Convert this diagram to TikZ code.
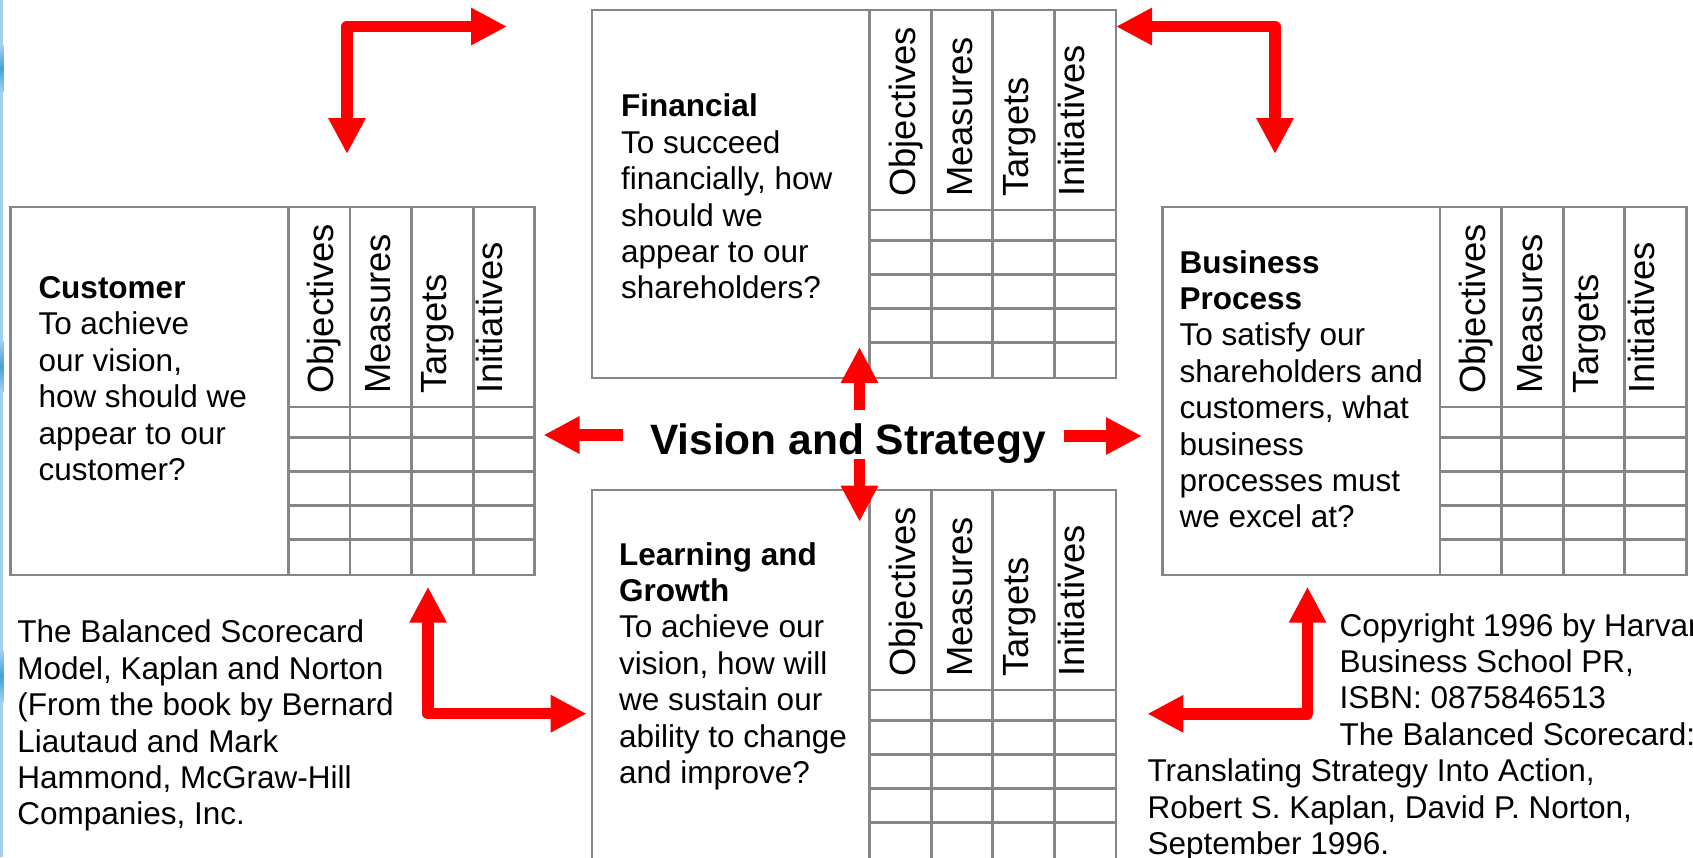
\documentclass[tikz,border=0pt]{standalone}
\usepackage{fontspec}
\setmainfont{Liberation Sans}
\usetikzlibrary{arrows.meta,calc}

\definecolor{boxgray}{RGB}{134,134,134}
\definecolor{arrowred}{RGB}{255,0,0}
\definecolor{stripblue}{RGB}{163,208,238}
\definecolor{stripdark}{RGB}{72,160,212}

\newcommand\cardfont{\fontsize{31.5}{36.4}\selectfont}
\newcommand\colfont{\fontsize{36.4}{42}\selectfont}
\newcommand\vsfont{\fontsize{42.5}{48}\selectfont\bfseries}

\tikzset{
  card/.style={draw=boxgray, line width=2.8pt, minimum width=524pt,
    minimum height=368pt, inner sep=0pt, outer sep=0pt, anchor=north west},
  gridline/.style={draw=boxgray, line width=2.8pt},
  colhead/.style={rotate=90, anchor=base west, inner sep=0pt, font=\colfont},
  cardtext/.style={anchor=north west, inner sep=0pt, align=left, font=\cardfont},
  redarrow/.style={draw=arrowred, line width=11.5pt, line join=round,
    arrows={-Triangle[width=35pt,length=36pt]}},
  twoway/.style={draw=arrowred, line width=11.5pt, line join=round,
    arrows={Triangle[width=35pt,length=36pt]-Triangle[width=35pt,length=36pt]}},
}

% measure columns and rows of one scorecard, drawn inside the card node #1
\newcommand\cardgrid[1]{%
  \begin{scope}[shift={(#1.north west)}]
    \foreach \cx in {277.6,339.2,400.8,462.4}
      \draw[gridline] (\cx,0) -- (\cx,368);
    \foreach \ry in {200,230.5,264.5,298.5,332.5}
      \draw[gridline] (277.6,\ry) -- (524,\ry);
    \node[colhead] (#1-obj) at (323,187) {Objectives};
    \node[colhead] (#1-mea) at (380,187) {Measures};
    \node[colhead] (#1-tar) at (436,187) {Targets};
    \node[colhead] (#1-ini) at (492,187) {Initiatives};
  \end{scope}}

\begin{document}
\begin{tikzpicture}[x=1pt,y=-1pt]
  \path[use as bounding box] (0,0) rectangle (1693,857);
  \clip (0,0) rectangle (1693,857);

  % thin blue strip along the left edge
  \fill[stripblue] (0,0) rectangle (3.3,857);
  \foreach \ya/\yb in {45/92,340/392,650/702}
    \shade[top color=stripblue, bottom color=stripblue, middle color=stripdark]
      (0,\ya) rectangle (3.3,\yb);

  % the four perspectives
  \node[card] (cust)  at (10.7,207) {};
  \node[card] (fin)   at (592,10) {};
  \node[card] (bus)   at (1162.3,207) {};
  \node[card, minimum height=374pt] (learn) at (592,490) {};
  \cardgrid{cust}
  \cardgrid{fin}
  \cardgrid{bus}
  \cardgrid{learn}

  \node[cardtext] (cust-text) at (38.3,272.8)
    {\strut\textbf{Customer}\\To achieve\\our vision,\\how should we\\appear to our\\customer?};
  \node[cardtext] (fin-text) at (621,91.2)
    {\strut\textbf{Financial}\\To succeed\\financially, how\\should we\\appear to our\\shareholders?};
  \node[cardtext] (bus-text) at (1179.4,247.5)
    {\strut\textbf{Business}\\\textbf{Process}\\To satisfy our\\shareholders and\\customers, what\\business\\processes must\\we excel at?};
  \node[cardtext] (learn-text) at (619,539.5)
    {\strut\textbf{Learning and}\\\textbf{Growth}\\To achieve our\\vision, how will\\we sustain our\\ability to change\\and improve?};

  % centre label
  \node[font=\vsfont, anchor=base, inner sep=0pt] (vision) at (848,454) {Vision and Strategy};

  % sources
  \node[cardtext] (src-left) at (17.2,617.2)
    {\strut The Balanced Scorecard\\Model, Kaplan and Norton\\(From the book by Bernard\\Liautaud and Mark\\Hammond, McGraw-Hill\\Companies, Inc.};
  \node[cardtext] (src-right) at (1339.5,610.5)
    {\strut Copyright 1996 by Harvard\\Business School PR,\\ISBN: 0875846513\\The Balanced Scorecard:};
  \node[cardtext] (src-right2) at (1147.3,756.2)
    {\strut Translating Strategy Into Action,\\Robert S. Kaplan, David P. Norton,\\September 1996.};

  % arrow end points
  \coordinate (tl-down)   at (347,154);
  \coordinate (tl-corner) at (347,26.5);
  \coordinate (tl-right)  at (507,26.5);
  \coordinate (tr-left)   at (1116,26.5);
  \coordinate (tr-corner) at (1275,26.5);
  \coordinate (tr-down)   at (1275,154);
  \coordinate (bl-up)     at (428,586.7);
  \coordinate (bl-corner) at (428,713.7);
  \coordinate (bl-right)  at (586.7,713.7);
  \coordinate (br-up)     at (1307.5,586.7);
  \coordinate (br-corner) at (1307.5,713.8);
  \coordinate (br-left)   at (1147.3,713.8);
  \coordinate (up-from)    at (859.5,410);
  \coordinate (up-to)      at (859.5,347);
  \coordinate (down-from)  at (859.5,459);
  \coordinate (down-to)    at (859.5,521.7);
  \coordinate (left-from)  at (623,435);
  \coordinate (left-to)    at (543.5,435);
  \coordinate (right-from) at (1064,436);
  \coordinate (right-to)   at (1142,436);

  % elbow arrows between neighbouring perspectives
  \draw[twoway] (tl-down) -- (tl-corner) -- (tl-right);
  \draw[twoway] (tr-left) -- (tr-corner) -- (tr-down);
  \draw[twoway] (bl-up) -- (bl-corner) -- (bl-right);
  \draw[twoway] (br-up) -- (br-corner) -- (br-left);

  % arrows out of the centre
  \draw[redarrow] (up-from) -- (up-to);
  \draw[redarrow] (down-from) -- (down-to);
  \draw[redarrow] (left-from) -- (left-to);
  \draw[redarrow] (right-from) -- (right-to);
\end{tikzpicture}
\end{document}
